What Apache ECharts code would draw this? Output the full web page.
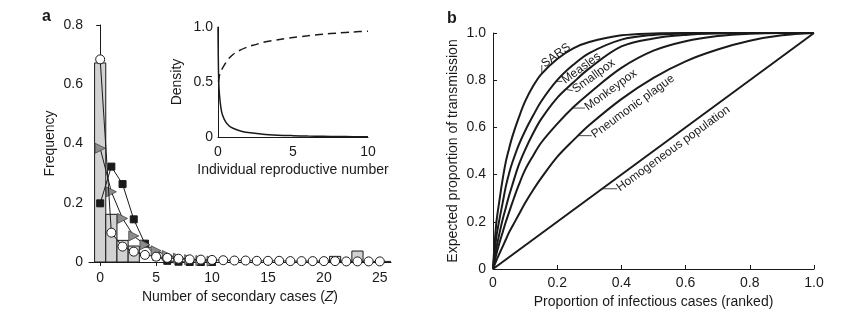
<!DOCTYPE html>
<html><head><meta charset="utf-8">
<script src="https://cdn.jsdelivr.net/npm/echarts@6/dist/echarts.min.js"></script>
<style>html,body{margin:0;padding:0;background:#fff}#c{width:859px;height:321px}</style>
</head><body><div id="c"></div>
<script>
// ---------- Panel a: histogram + fitted distributions ----------
const histZ = [0, 1, 2, 3, 21, 23];
const histFreq = [0.672, 0.161, 0.073, 0.054, 0.019, 0.037];

const circleZ = [0,1,2,3,4,5,6,7,8,9,10,11,12,13,14,15,16,17,18,19,20,21,22,23,24,25,26];
const circleFreq = [0.684,0.099,0.052,0.035,0.024,0.018,0.014,0.011,0.009,0.008,0.007,0.006,0.005,0.005,0.004,0.004,0.004,0.003,0.003,0.003,0.003,0.003,0.002,0.002,0.002,0.002,0.002];

const squareZ = [0,1,2,3,4,5,6,7,8,9,10];
const squareFreq = [0.198,0.322,0.263,0.144,0.062,0.018,0.004,0.001,0,0,0];

const triangleZ = [0,1,2,3,4,5,6,7,8,9,10];
const triangleFreq = [0.384,0.237,0.147,0.088,0.058,0.038,0.022,0.013,0.008,0.005,0.003];

const aTicks = [0, 5, 10, 15, 20, 25];

// ---------- Inset ----------
const densityX = [0,0.02,0.05,0.1,0.2,0.3,0.5,0.75,1,1.5,2,3,4,5,6,7,8,9,10];
const densityY = [1.0,0.72,0.5,0.38,0.26,0.2,0.14,0.1,0.08,0.055,0.04,0.025,0.017,0.012,0.008,0.006,0.004,0.003,0.002];
const cumX = [0.03,0.1,0.2,0.45,0.7,1,1.33,2,2.5,3,4,5,6,7,8,9,10];
const cumY = [0.5,0.56,0.6,0.66,0.71,0.75,0.78,0.82,0.84,0.86,0.885,0.905,0.92,0.935,0.945,0.955,0.962];

// ---------- Panel b ----------
const propX      = [0,0.01,0.02,0.03,0.04,0.05,0.06,0.08,0.1,0.125,0.15,0.2,0.25,0.3,0.4,0.5,0.6,0.7,0.8,0.9,1.0];
const sarsY      = [0,0.19,0.29,0.38,0.455,0.51,0.56,0.64,0.71,0.775,0.825,0.89,0.935,0.962,0.99,0.998,1,1,1,1,1];
const measlesY   = [0,0.13,0.21,0.28,0.35,0.405,0.45,0.525,0.585,0.65,0.71,0.8,0.865,0.915,0.972,0.992,0.998,1,1,1,1];
const smallpoxY  = [0,0.085,0.15,0.21,0.26,0.31,0.355,0.44,0.505,0.575,0.635,0.725,0.79,0.85,0.943,0.977,0.992,0.998,1,1,1];
const monkeypoxY = [0,0.06,0.11,0.155,0.2,0.24,0.28,0.355,0.42,0.48,0.535,0.615,0.685,0.745,0.852,0.925,0.965,0.987,0.997,1,1];
const plagueY    = [0,0.035,0.065,0.095,0.125,0.155,0.18,0.23,0.28,0.335,0.385,0.475,0.545,0.61,0.72,0.81,0.88,0.93,0.967,0.99,1];
const homogX = [0, 1];
const homogY = [0, 1];

const curveNames = ['SARS','Measles','Smallpox','Monkeypox','Pneumonic plague','Homogeneous population'];
const labelAnchorX = [0.152, 0.194, 0.23, 0.246, 0.267, 0.34];
const labelAnchorY = [0.826, 0.795, 0.76, 0.682, 0.565, 0.34];

// ---------- build ----------
const zip = (a, b) => a.map((v, i) => [v, b[i]]);
const FONT = 'Liberation Sans, Arial, Helvetica, sans-serif';
const INK = '#1a1a1a';
const FS = 14;
const one = v => v === 0 ? '0' : v.toFixed(1);

const axisCommon = {
  axisLine: {show: true, lineStyle: {color: INK, width: 1}},
  splitLine: {show: false},
  axisLabel: {color: INK, fontSize: FS, fontFamily: FONT},
  nameTextStyle: {color: INK, fontSize: FS, fontFamily: FONT},
  nameLocation: 'middle'
};

const chart = echarts.init(document.getElementById('c'), null, {renderer: 'canvas'});

const option = {
  animation: false,
  backgroundColor: '#fff',
  textStyle: {fontFamily: FONT},
  grid: [
    {left: 89, top: 25, width: 302, height: 237},
    {left: 218, top: 27, width: 150, height: 110},
    {left: 493, top: 33, width: 321, height: 236}
  ],
  xAxis: [
    Object.assign({}, axisCommon, {
      gridIndex: 0, type: 'value', min: -1, max: 26,
      axisTick: {show: true, length: 4, lineStyle: {color: INK}, customValues: aTicks},
      axisLabel: Object.assign({}, axisCommon.axisLabel, {customValues: aTicks, margin: 9}),
      name: 'Number of secondary cases ({i|Z})', nameGap: 28,
      nameTextStyle: Object.assign({}, axisCommon.nameTextStyle, {rich: {i: {fontStyle: 'italic', fontSize: FS, fontFamily: FONT, color: INK}}})
    }),
    Object.assign({}, axisCommon, {
      gridIndex: 1, type: 'value', min: 0, max: 10, interval: 5,
      axisTick: {show: false},
      axisLabel: Object.assign({}, axisCommon.axisLabel, {margin: 8}),
      name: 'Individual reproductive number', nameGap: 26
    }),
    Object.assign({}, axisCommon, {
      gridIndex: 2, type: 'value', min: 0, max: 1, interval: 0.2,
      axisTick: {show: true, inside: true, length: 4, lineStyle: {color: INK}},
      axisLabel: Object.assign({}, axisCommon.axisLabel, {margin: 7, formatter: one}),
      name: 'Proportion of infectious cases (ranked)', nameGap: 26
    })
  ],
  yAxis: [
    Object.assign({}, axisCommon, {
      gridIndex: 0, type: 'value', min: 0, max: 0.8, interval: 0.2,
      axisTick: {show: true, length: 4, lineStyle: {color: INK}},
      axisLabel: Object.assign({}, axisCommon.axisLabel, {margin: 6}),
      name: 'Frequency', nameGap: 32
    }),
    Object.assign({}, axisCommon, {
      gridIndex: 1, type: 'value', min: 0, max: 1, interval: 0.5,
      axisTick: {show: false},
      axisLabel: Object.assign({}, axisCommon.axisLabel, {margin: 5, formatter: one}),
      name: 'Density', nameGap: 34
    }),
    Object.assign({}, axisCommon, {
      gridIndex: 2, type: 'value', min: 0, max: 1, interval: 0.2,
      axisTick: {show: true, inside: true, length: 4, lineStyle: {color: INK}},
      axisLabel: Object.assign({}, axisCommon.axisLabel, {margin: 7, formatter: one}),
      name: 'Expected proportion of transmission', nameGap: 33
    })
  ],
  series: [
    {
      type: 'custom', xAxisIndex: 0, yAxisIndex: 0, z: 1,
      data: zip(histZ, histFreq),
      renderItem: function (params, api) {
        const z = api.value(0), f = api.value(1);
        const p0 = api.coord([z - 0.5, 0]);
        const p1 = api.coord([z + 0.5, f]);
        return {type: 'rect', shape: {x: p0[0], y: p1[1], width: p1[0] - p0[0], height: p0[1] - p1[1]},
          style: {fill: '#d2d2d2', stroke: INK, lineWidth: 1}};
      }
    },
    {
      type: 'line', xAxisIndex: 0, yAxisIndex: 0, z: 3,
      data: zip(squareZ, squareFreq),
      symbol: 'rect', symbolSize: 7,
      itemStyle: {color: INK, borderColor: INK},
      lineStyle: {color: INK, width: 1}
    },
    {
      type: 'line', xAxisIndex: 0, yAxisIndex: 0, z: 4,
      data: zip(triangleZ, triangleFreq),
      symbol: 'triangle', symbolRotate: -90, symbolSize: 10,
      itemStyle: {color: '#8c8c8c', borderColor: '#444', borderWidth: 0.8},
      lineStyle: {color: INK, width: 1}
    },
    {
      type: 'line', xAxisIndex: 0, yAxisIndex: 0, z: 5,
      data: zip(circleZ, circleFreq).map((d, i) => i === circleZ.length - 1 ? {value: d, symbolSize: 0} : d),
      symbol: 'circle', symbolSize: 9,
      itemStyle: {color: '#fff', borderColor: INK, borderWidth: 1},
      lineStyle: {color: INK, width: 1}
    },
    {
      type: 'line', xAxisIndex: 1, yAxisIndex: 1, showSymbol: false, smooth: 0.3,
      data: zip(densityX, densityY),
      lineStyle: {color: INK, width: 1.5}
    },
    {
      type: 'line', xAxisIndex: 1, yAxisIndex: 1, showSymbol: false, smooth: 0.3,
      data: zip(cumX, cumY),
      lineStyle: {color: INK, width: 1.5, type: [8, 5]}
    }
  ].concat([sarsY, measlesY, smallpoxY, monkeypoxY, plagueY].map(ys => ({
      type: 'line', xAxisIndex: 2, yAxisIndex: 2, showSymbol: false, smooth: 0.35,
      data: zip(propX, ys), lineStyle: {color: INK, width: 2}
    }))).concat([{
      type: 'line', xAxisIndex: 2, yAxisIndex: 2, showSymbol: false,
      data: zip(homogX, homogY), lineStyle: {color: INK, width: 2}
    }])
};
chart.setOption(option);

// annotations positioned via the axes
const rot = 36 * Math.PI / 180;
const leaders = [[0, -9], [7, 0], [6, 1], [13, 0], [13, 0], [15, 0]];
const g = [
  {type: 'text', x: 42, y: 9, style: {text: 'a', font: 'bold 16px ' + FONT, fill: INK}},
  {type: 'text', x: 447, y: 11, style: {text: 'b', font: 'bold 16px ' + FONT, fill: INK}}
];
curveNames.forEach((name, i) => {
  const p = chart.convertToPixel({gridIndex: 2}, [labelAnchorX[i], labelAnchorY[i]]);
  const e = [p[0] + leaders[i][0], p[1] + leaders[i][1]];
  g.push({type: 'line', shape: {x1: p[0], y1: p[1], x2: e[0], y2: e[1]}, style: {stroke: INK, lineWidth: 0.8}});
  g.push({type: 'text', x: e[0] + 1, y: e[1], rotation: rot,
    style: {text: name, fontSize: 12, fontFamily: FONT, fill: INK, align: 'left', verticalAlign: 'middle'}});
});
chart.setOption({graphic: g});
</script>
</body></html>
